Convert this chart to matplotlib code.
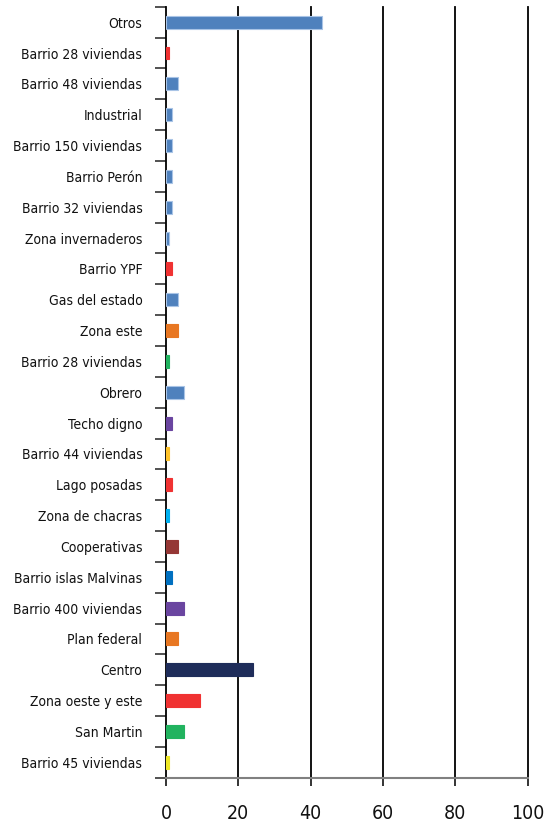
import matplotlib
matplotlib.use("Agg")
import matplotlib.pyplot as plt
from matplotlib import font_manager

barrios = ["Otros", "Barrio 28 viviendas", "Barrio 48 viviendas", "Industrial",
           "Barrio 150 viviendas", "Barrio Perón", "Barrio 32 viviendas",
           "Zona invernaderos", "Barrio YPF", "Gas del estado", "Zona este",
           "Barrio 28 viviendas", "Obrero", "Techo digno", "Barrio 44 viviendas",
           "Lago posadas", "Zona de chacras", "Cooperativas",
           "Barrio islas Malvinas", "Barrio 400 viviendas", "Plan federal",
           "Centro", "Zona oeste y este", "San Martin", "Barrio 45 viviendas"]
porcentaje = [43.2, 0.9, 3.4, 1.7, 1.7, 1.7, 1.7, 0.8, 1.7, 3.4, 3.4, 0.9,
              5.0, 1.7, 0.9, 1.7, 0.9, 3.4, 1.7, 4.9, 3.4, 24.1, 9.3, 4.9, 0.9]
colores = ["#4F81BD", "#F03232", "#4F81BD", "#4F81BD", "#4F81BD", "#4F81BD",
           "#4F81BD", "#4F81BD", "#F03232", "#4F81BD", "#E87722", "#21B35F",
           "#4F81BD", "#6A45A0", "#FFC32A", "#F03232", "#00B0F0", "#953735",
           "#0070C0", "#6A45A0", "#E87722", "#1F2D5A", "#F03232", "#21B35F",
           "#EEE826"]
x_ticks = [0, 20, 40, 60, 80, 100]

# condensed face if the system has one
cond = [f for f in font_manager.fontManager.ttflist
        if f.name == "DejaVu Sans" and f.stretch == "condensed" and f.weight == 400]
plt.rcParams["font.family"] = ["DejaVu Sans"]
if cond:
    plt.rcParams["font.stretch"] = "condensed"
    ysize, xsize = 10, 14
else:
    ysize, xsize = 8.8, 13

fig = plt.figure(figsize=(5.55, 8.25), dpi=100)
ax = fig.add_axes([0.299, 0.0573, 0.6515, 0.9345])

pos = list(range(len(barrios)))
for i, (v, c) in enumerate(zip(porcentaje, colores)):
    edge = "#A9C4E6" if c == "#4F81BD" else c
    ax.barh(i, v, height=0.42, color=c, edgecolor=edge, linewidth=0.8, zorder=3)

ax.set_ylim(len(barrios) - 0.5, -0.5)
ax.set_xlim(0, 100)

ax.set_yticks(pos)
ax.set_yticklabels(barrios, fontsize=ysize, color="#111111")
ax.set_yticks([p - 0.5 for p in pos] + [len(barrios) - 0.5], minor=True)
ax.tick_params(axis="y", which="major", length=0, pad=17)
ax.tick_params(axis="y", which="minor", length=8, width=1.2, color="#333333")

ax.set_xticks(x_ticks)
ax.set_xticklabels([str(t) for t in x_ticks], fontsize=xsize, color="#111111")
ax.tick_params(axis="x", length=6, width=1.2, color="#111111", pad=13)

for t in x_ticks[1:]:
    ax.axvline(t, color="black", linewidth=1.3, zorder=1, clip_on=False)

for s in ["top", "right"]:
    ax.spines[s].set_visible(False)
ax.spines["left"].set_color("black")
ax.spines["left"].set_linewidth(1.3)
ax.spines["bottom"].set_color("#808080")
ax.spines["bottom"].set_linewidth(1.5)

fig.savefig("out.png", dpi=100)
